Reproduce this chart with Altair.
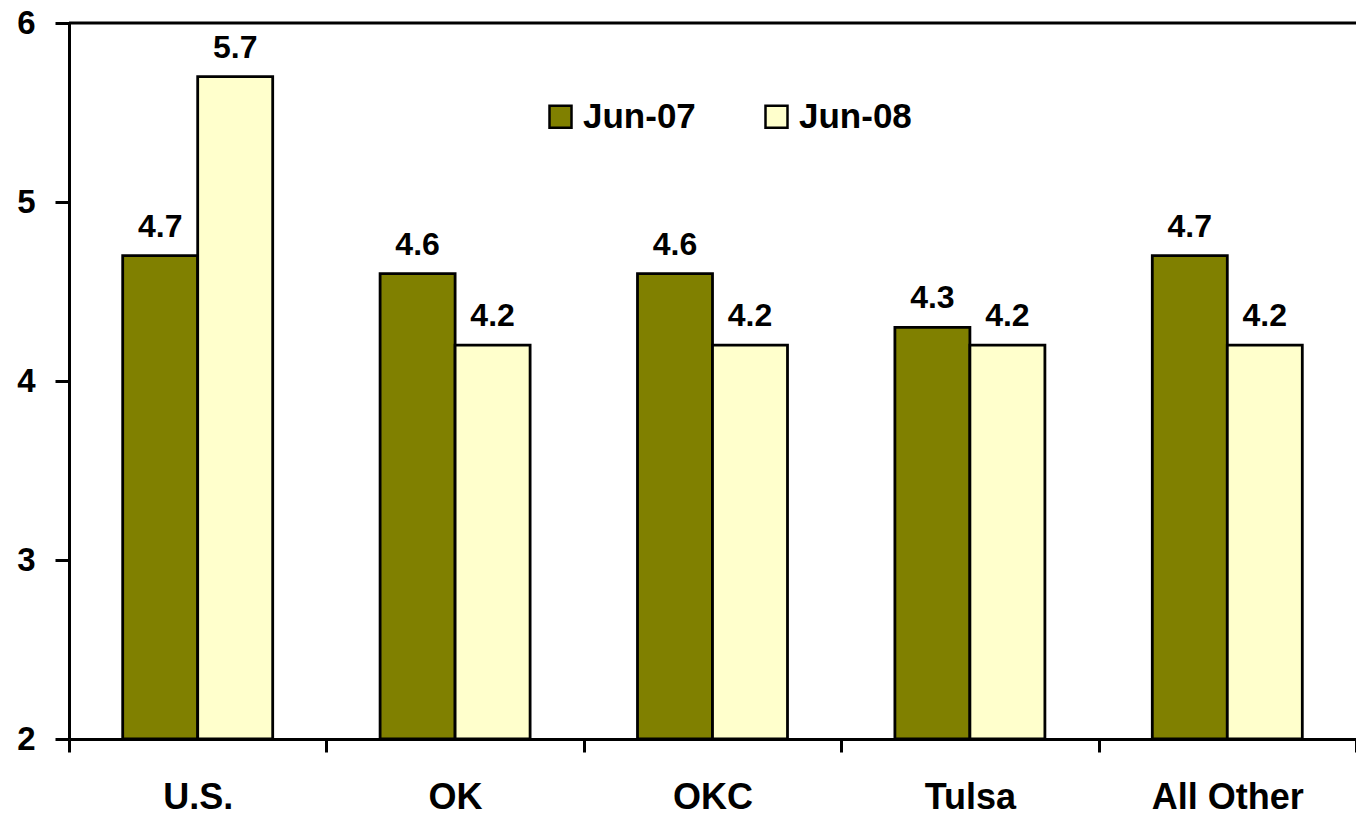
import altair as alt
import pandas as pd

# Unemployment rate by area, June 2007 vs June 2008
regions = ["U.S.", "OK", "OKC", "Tulsa", "All Other"]
periods = ["Jun-07", "Jun-08"]
jun07 = [4.7, 4.6, 4.6, 4.3, 4.7]
jun08 = [5.7, 4.2, 4.2, 4.2, 4.2]
y_ticks = [2, 3, 4, 5, 6]
colors = ["#808000", "#FFFFCC"]

rows = []
for r, a, b in zip(regions, jun07, jun08):
    rows.append({"region": r, "period": periods[0], "rate": a})
    rows.append({"region": r, "period": periods[1], "rate": b})
df = pd.DataFrame(rows)

FONT = "Liberation Sans"
W, H = 1287, 716

x_enc = alt.X(
    "region:N",
    sort=regions,
    scale=alt.Scale(paddingInner=0, paddingOuter=0),
    axis=alt.Axis(
        title=None,
        labelAngle=0,
        tickBand="extent",
        tickSize=13,
        labelPadding=28,
    ),
)
xoff_enc = alt.XOffset(
    "period:N", sort=periods, scale=alt.Scale(paddingInner=0, paddingOuter=0.716)
)
y_scale = alt.Scale(domain=[2, 6], zero=False, nice=False)
y_axis = alt.Axis(
    title=None,
    values=y_ticks,
    format="d",
    tickSize=14,
    labelPadding=20,
)

bars = alt.Chart(df).mark_bar(stroke="black", strokeWidth=2.8).encode(
    x=x_enc,
    xOffset=xoff_enc,
    y=alt.Y("rate:Q", scale=y_scale, axis=y_axis),
    y2=alt.datum(2),
    fill=alt.Fill(
        "period:N",
        sort=periods,
        scale=alt.Scale(domain=periods, range=colors),
        legend=alt.Legend(
            title=None,
            orient="none",
            legendX=474,
            legendY=76,
            direction="horizontal",
            symbolType="square",
            symbolSize=484,
            symbolStrokeColor="black",
            symbolStrokeWidth=2.5,
            symbolOpacity=1,
            labelFont=FONT,
            labelFontWeight="bold",
            labelFontSize=35,
            labelColor="black",
            labelOffset=5,
            columnPadding=63,
            padding=0,
        ),
    ),
)

labels = alt.Chart(df).mark_text(
    font=FONT, fontWeight="bold", fontSize=32, color="black",
    baseline="alphabetic", dy=-19,
).encode(
    x=x_enc,
    xOffset=xoff_enc,
    y=alt.Y("rate:Q", scale=y_scale, axis=y_axis),
    text=alt.Text("rate:Q", format=".1f"),
)

top_line = alt.Chart(pd.DataFrame({"rate": [6]})).mark_rule(
    color="black", strokeWidth=3
).encode(y=alt.Y("rate:Q", scale=y_scale, axis=y_axis), x=alt.value(0), x2=alt.value(W))

chart = (
    alt.layer(bars, labels, top_line)
    .properties(
        width=W,
        height=H,
        autosize=alt.AutoSizeParams(type="none"),
        padding={"left": 69, "top": 23, "right": 0, "bottom": 76},
        background="white",
    )
    .configure_view(stroke=None)
    .configure_axis(
        labelFont=FONT,
        labelFontWeight="bold",
        labelColor="black",
        domainColor="black",
        domainWidth=3,
        tickColor="black",
        tickWidth=3,
        grid=False,
    )
    .configure_axisX(labelFontSize=36)
    .configure_axisY(labelFontSize=33)
)

chart.save("out.html", embed_options={"renderer": "svg", "actions": False})
